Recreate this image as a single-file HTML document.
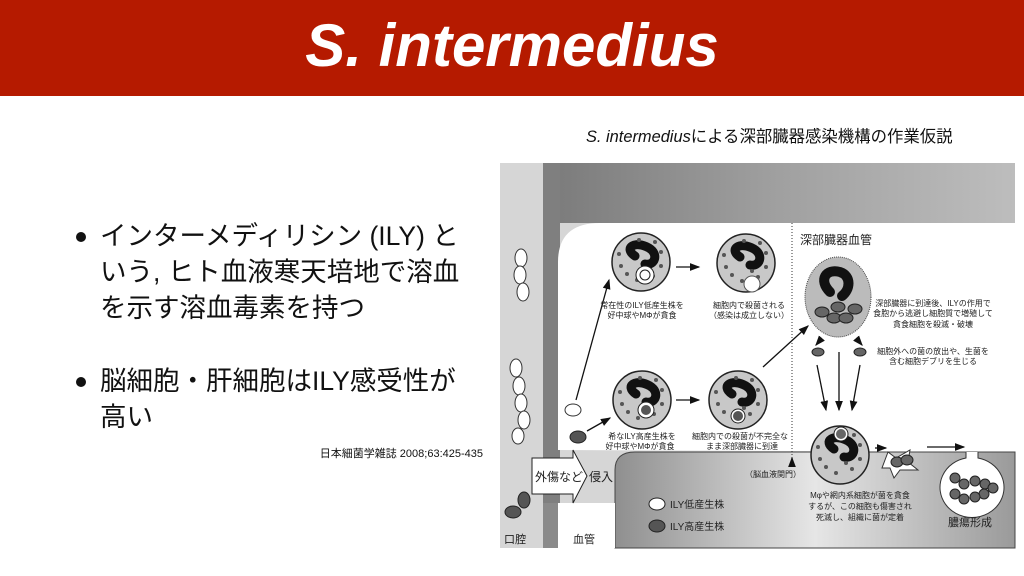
<!DOCTYPE html>
<html><head><meta charset="utf-8"><style>
body{margin:0;width:1024px;height:576px;overflow:hidden;background:#fff;font-family:"Liberation Sans","Noto Sans CJK JP",sans-serif;position:relative}
.bar{position:absolute;left:0;top:0;width:1024px;height:96px;background:#b51a00}
.title{position:absolute;left:0;top:10px;width:1024px;text-align:center;color:#fff;font-size:60px;font-weight:bold;font-style:italic;line-height:72px}
.b{position:absolute;left:100px;font-size:26.5px;line-height:36px;color:#111;white-space:nowrap}
.b:before{content:"";position:absolute;left:-24px;top:14px;width:10px;height:10px;border-radius:50%;background:#111}
.cite{position:absolute;left:300px;width:183px;text-align:right;top:445px;font-size:11px;color:#111}
.cap{position:absolute;left:586px;top:123px;font-size:16.4px;color:#111;white-space:nowrap}
svg{position:absolute;left:0;top:0}
svg text{font-family:"Liberation Sans","Noto Sans CJK JP",sans-serif;fill:#222}
</style></head><body>
<div class="bar"></div>
<div class="title">S. intermedius</div>
<div class="b" style="top:218px">インターメディリシン (ILY) と<br>いう, ヒト血液寒天培地で溶血<br>を示す溶血毒素を持つ</div>
<div class="b" style="top:363px">脳細胞・肝細胞はILY感受性が<br>高い</div>
<div class="cite">日本細菌学雑誌 2008;63:425-435</div>
<div class="cap"><i>S. intermedius</i>による深部臓器感染機構の作業仮説</div>
<svg width="1024" height="576">
<defs>
<linearGradient id="g1" x1="0" x2="1"><stop offset="0" stop-color="#7a7a7a"/><stop offset="0.5" stop-color="#a0a0a0"/><stop offset="1" stop-color="#bdbdbd"/></linearGradient>
<linearGradient id="g2" x1="0" x2="1"><stop offset="0" stop-color="#8f8f8f"/><stop offset="0.5" stop-color="#e6e6e6"/><stop offset="1" stop-color="#9a9a9a"/></linearGradient>
<marker id="ar" markerWidth="8" markerHeight="8" refX="7" refY="4" orient="auto"><path d="M0,1 L8,4 L0,7z" fill="#111"/></marker>
<g id="cell"><circle r="29" fill="#c8c8c8" stroke="#222" stroke-width="1.5"/>
<path d="M-6,-6 C-18,-14 -6,-22 8,-14 C18,-8 14,4 4,2" fill="none" stroke="#111" stroke-width="9" stroke-linecap="round"/>
<g fill="#555"><circle cx="-20" cy="4" r="2"/><circle cx="-14" cy="12" r="2"/><circle cx="-4" cy="18" r="2"/><circle cx="12" cy="14" r="2"/><circle cx="20" cy="4" r="2"/><circle cx="20" cy="-10" r="2"/><circle cx="-2" cy="-22" r="2"/><circle cx="14" cy="-20" r="2"/><circle cx="-22" cy="-8" r="2"/><circle cx="6" cy="8" r="2"/></g></g>
</defs>
<rect x="500" y="163" width="515" height="385" fill="#d6d6d6"/>
<rect x="543" y="163" width="472" height="60" fill="url(#g1)"/>
<rect x="543" y="163" width="17" height="385" fill="#7f7f7f"/>
<path d="M558,450 L558,262 Q558,223 600,223 L1015,223 L1015,452 Z" fill="#fff"/>
<path d="M615,548 L615,470 Q615,452 635,452 L1015,452 L1015,548 Z" fill="url(#g2)" stroke="#444"/>
<rect x="543" y="503" width="15" height="45" fill="#8a8a8a"/>
<rect x="558" y="503" width="57" height="45" fill="#fff"/>
<line x1="792" y1="223" x2="792" y2="460" stroke="#333" stroke-dasharray="1,2"/>
<g fill="#fff" stroke="#333"><ellipse cx="521" cy="258" rx="6" ry="9"/><ellipse cx="520" cy="275" rx="6" ry="9"/><ellipse cx="523" cy="292" rx="6" ry="9"/>
<ellipse cx="516" cy="368" rx="6" ry="9"/><ellipse cx="519" cy="386" rx="6" ry="9"/><ellipse cx="521" cy="403" rx="6" ry="9"/><ellipse cx="524" cy="420" rx="6" ry="9"/><ellipse cx="518" cy="436" rx="6" ry="8"/>
<ellipse cx="573" cy="410" rx="8" ry="6"/></g>
<g fill="#555" stroke="#222"><ellipse cx="578" cy="437" rx="8" ry="6"/><ellipse cx="513" cy="512" rx="8" ry="6"/><ellipse cx="524" cy="500" rx="6" ry="8"/></g>
<path d="M532,458 L573,458 L573,450 L587,476 L573,503 L573,494 L532,494 Z" fill="#fff" stroke="#222"/>
<text x="535" y="481" font-size="12">外傷など</text><text x="589" y="481" font-size="12">侵入</text>
<use href="#cell" x="641" y="262"/><use href="#cell" x="746" y="263"/><use href="#cell" x="642" y="400"/><use href="#cell" x="738" y="400"/>
<circle cx="645" cy="275" r="9" fill="#fff" stroke="#222"/><circle cx="645" cy="275" r="5" fill="#fff" stroke="#222"/>
<circle cx="752" cy="284" r="8" fill="#fff" stroke="#555"/>
<circle cx="646" cy="410" r="8" fill="#fff" stroke="#222"/><circle cx="646" cy="410" r="5" fill="#555"/>
<circle cx="738" cy="416" r="7" fill="#fff" stroke="#222"/><circle cx="738" cy="416" r="5" fill="#555"/>
<ellipse cx="838" cy="297" rx="33" ry="40" fill="#bbb" stroke="#444" stroke-dasharray="1,1"/>
<path d="M830,292 C818,280 826,268 840,272 C852,276 850,290 842,296" fill="none" stroke="#111" stroke-width="10" stroke-linecap="round"/>
<g fill="#666" stroke="#222"><ellipse cx="822" cy="312" rx="7" ry="5"/><ellipse cx="834" cy="318" rx="7" ry="5"/><ellipse cx="846" cy="318" rx="7" ry="5"/><ellipse cx="855" cy="309" rx="7" ry="5"/><ellipse cx="838" cy="307" rx="7" ry="5"/>
<ellipse cx="818" cy="352" rx="6" ry="4"/><ellipse cx="860" cy="352" rx="6" ry="4"/></g>
<use href="#cell" x="840" y="455"/>
<circle cx="841" cy="434" r="7" fill="#fff" stroke="#222"/><circle cx="841" cy="434" r="5" fill="#666"/>
<path d="M888,452 L896,458 L910,450 L908,462 L918,470 L900,470 L894,478 L890,468 L882,468 Z" fill="#fff" stroke="#333"/>
<ellipse cx="897" cy="462" rx="6" ry="5" fill="#666" stroke="#222"/><ellipse cx="907" cy="460" rx="6" ry="5" fill="#666" stroke="#222"/>
<path d="M978,452 L978,458 A32,30 0 1 1 966,458 L966,452" fill="#fff" stroke="#333"/>
<g fill="#666" stroke="#222"><circle cx="955" cy="478" r="5"/><circle cx="964" cy="484" r="5"/><circle cx="975" cy="481" r="5"/><circle cx="985" cy="484" r="5"/><circle cx="993" cy="488" r="5"/><circle cx="984" cy="494" r="5"/><circle cx="975" cy="497" r="5"/><circle cx="964" cy="499" r="5"/><circle cx="955" cy="494" r="5"/></g>
<g stroke="#111" stroke-width="1.3" marker-end="url(#ar)">
<line x1="576" y1="400" x2="609" y2="280"/><line x1="587" y1="431" x2="610" y2="418"/>
<line x1="676" y1="267" x2="699" y2="267"/><line x1="676" y1="400" x2="699" y2="400"/>
<line x1="763" y1="367" x2="808" y2="326"/>
<line x1="822" y1="338" x2="816" y2="345"/><line x1="856" y1="338" x2="862" y2="345"/>
<line x1="817" y1="365" x2="826" y2="410"/><line x1="839" y1="352" x2="839" y2="410"/><line x1="860" y1="365" x2="852" y2="410"/>
<line x1="875" y1="448" x2="886" y2="448"/><line x1="927" y1="447" x2="964" y2="447"/>
<line x1="792" y1="463" x2="792" y2="458"/></g>
<g font-size="8" text-anchor="middle">
<text x="642" y="308">常在性のILY低産生株を</text><text x="642" y="318">好中球やMΦが貪食</text>
<text x="749" y="308">細胞内で殺菌される</text><text x="749" y="318">（感染は成立しない）</text>
<text x="642" y="439">希なILY高産生株を</text><text x="640" y="449">好中球やMΦが貪食</text>
<text x="740" y="439">細胞内での殺菌が不完全な</text><text x="742" y="449">まま深部臓器に到達</text>
<text x="773" y="477">（脳血液関門）</text>
<text x="933" y="306">深部臓器に到達後、ILYの作用で</text><text x="933" y="316">食胞から逃避し細胞質で増殖して</text><text x="933" y="327">貪食細胞を殺滅・破壊</text>
<text x="933" y="354">細胞外への菌の放出や、生菌を</text><text x="933" y="364">含む細胞デブリを生じる</text>
<text x="860" y="498">Mφや網内系細胞が菌を貪食</text><text x="860" y="509">するが、この細胞も傷害され</text><text x="860" y="520">死滅し、組織に菌が定着</text>
</g>
<text x="800" y="244" font-size="12">深部臓器血管</text>
<text x="948" y="526" font-size="11">膿瘍形成</text>
<text x="504" y="543" font-size="11">口腔</text><text x="573" y="543" font-size="11">血管</text>
<ellipse cx="657" cy="504" rx="8" ry="6" fill="#fff" stroke="#222"/><text x="670" y="508" font-size="10">ILY低産生株</text>
<ellipse cx="657" cy="526" rx="8" ry="6" fill="#555" stroke="#222"/><text x="670" y="530" font-size="10">ILY高産生株</text>
</svg>
</body></html>
